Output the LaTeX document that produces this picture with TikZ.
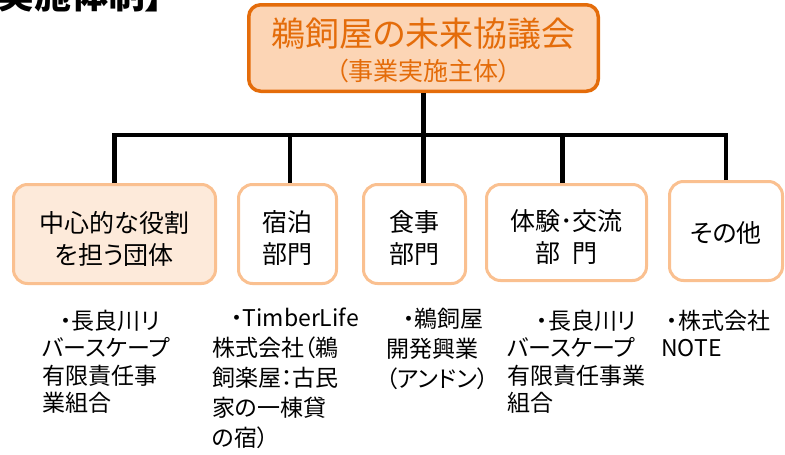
\documentclass[tikz,border=0pt]{standalone}
\usepackage{fontspec}
\setmainfont{Noto Sans CJK JP}[RawFeature=+palt]
\usetikzlibrary{calc}
\definecolor{headorange}{HTML}{E46C0A}
\definecolor{headfill}{HTML}{FCD5B5}
\definecolor{unitline}{HTML}{FAC090}
\definecolor{corefill}{HTML}{FDEADA}
\newcommand{\boxlift}[1]{\rule{0pt}{#1}}
\tikzset{
  headbox/.style={draw=headorange, fill=headfill, line width=3.5pt, rounded corners=12pt, text=headorange, align=center, inner sep=0pt},
  unitbox/.style={draw=unitline, fill=white, line width=3pt, rounded corners=14pt, align=center, inner sep=0pt, font=\fontsize{25}{32}\selectfont},
  conn/.style={line width=4.5pt},
  member/.style={anchor=north west, align=left, inner sep=0pt, font=\fontsize{23}{27.5}\selectfont, execute at begin node={\strut}}
}

\begin{document}
\begin{tikzpicture}[x=1pt,y=-1pt]
			%%%%% START %%%%%
			\clip (0,0) rectangle (785,455);
			
			\node[anchor=base east, inner sep=0pt, font=\fontsize{37}{40}\selectfont\bfseries] (title) at (164,9) {【実施体制】};
			
			\node[headbox, minimum width=349.5pt, minimum height=86.5pt, font=\fontsize{34}{34}\selectfont] (head) at (423.5,48) {\boxlift{33.7pt}鵜飼屋の未来協議会\\{\fontsize{25}{28}\selectfont （事業実施主体）}};
			
			\node[unitbox, fill=corefill, minimum width=202pt, minimum height=99pt] (core) at (114.5,234) {\boxlift{30pt}中心的な役割\\を担う団体};
			\node[unitbox, minimum width=98pt, minimum height=99pt] (lodge) at (287.5,234) {\boxlift{30pt}宿泊\\部門};
			\node[unitbox, minimum width=102pt, minimum height=99pt] (food) at (414.5,234) {\boxlift{30pt}食事\\部門};
			\node[unitbox, minimum width=160pt, minimum height=96pt] (exper) at (566.5,232.5) {\boxlift{30pt}体験･交流\\部\hspace{0.5em}門};
			\node[unitbox, minimum width=113pt, minimum height=99pt] (other) at (726,231) {\boxlift{24pt}その他};
			
			\path (head.south) ++(0,41.75) coordinate (hub);
			\draw[conn] (head.south) -- (hub);
			\draw[conn] (core.north) |- (hub);
			\draw[conn] ([xshift=2.5pt]lodge.north) |- (hub);
			\draw[conn] (food.north -| hub) -- (hub);
			\draw[conn] ([xshift=-4pt]exper.north) |- (hub);
			\draw[conn] (other.north) |- (hub);
			
			\node[member] (m1) at (42,309.5) {\hspace*{18pt}・長良川リ\\バースケープ\\有限責任事\\業組合};
			\node[member, font=\fontsize{23}{30}\selectfont] (m2) at (212,307.7) {\hspace*{19pt}・TimberLife\\株式会社（鵜\\飼楽屋：古民\\家の一棟貸\\の宿）};
			\node[member, font=\fontsize{23}{30}\selectfont] (m3) at (386,307.7) {\hspace*{17pt}・鵜飼屋\\開発興業\\（アンドン）};
			\node[member] (m4) at (507,309.5) {\hspace*{29.5pt}・長良川リ\\バースケープ\\有限責任事業\\組合};
			\node[member] (m5) at (661,309.5) {\hspace*{5.5pt}・株式会社\\NOTE};
			
			%%%%% END %%%%%
\end{tikzpicture}
\end{document}
